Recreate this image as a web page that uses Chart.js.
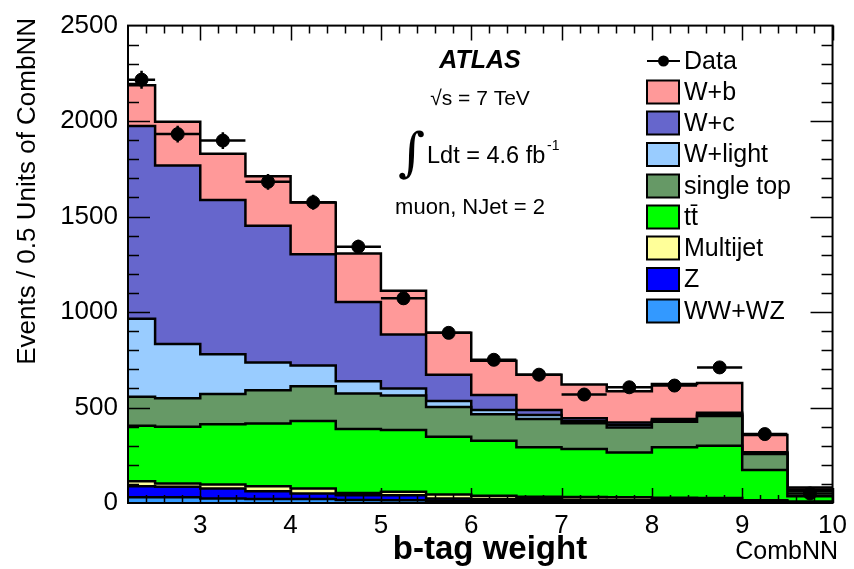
<!DOCTYPE html>
<html>
<head>
<meta charset="utf-8">
<script src="https://cdn.jsdelivr.net/npm/chart.js@4.4.0/dist/chart.umd.min.js"></script>
<style>
html, body { margin: 0; padding: 0; background: #fff; }
#wrap { width: 854px; height: 569px; }
</style>
</head>
<body>
<div id="wrap"><canvas id="chartBtag" width="854" height="569"></canvas></div>
<script>
// ---- data (events per bin)
const binEdges = [2.2, 2.5, 3.0, 3.5, 4.0, 4.5, 5.0, 5.5, 6.0, 6.5, 7.0, 7.5, 8.0, 8.5, 9.0, 9.5, 10.0];
const dataEvents = [2217, 1932, 1898, 1682, 1575, 1342, 1072, 891, 750, 672, 568, 606, 615, 710, 361, 50];

const wwwzVals      = [30, 30, 24, 21, 21, 16, 14, 12, 10, 9, 8, 7, 7, 6, 3, 1];
const zVals         = [58, 55, 52, 41, 29, 25, 27, 12, 11, 10, 9, 9, 8, 8, 5, 3];
const multijetVals  = [26, 17, 21, 26, 26, 12, 18, 21, 17, 14, 15, 14, 13, 12, 7, 4];
const ttbarVals     = [290, 297, 316, 328, 354, 334, 323, 302, 288, 259, 251, 235, 264, 274, 158, 28];
const singleTopVals = [152, 149, 158, 175, 181, 186, 181, 156, 139, 148, 135, 130, 133, 156, 84, 28];
const wLightVals    = [409, 285, 208, 145, 109, 64, 36, 31, 22, 21, 12, 13, 7, 8, 4, 3];
const wcVals        = [1009, 935, 808, 716, 582, 415, 283, 138, 78, 26, 14, 13, 8, 8, 5, 4];
const wbVals        = [214, 228, 242, 259, 271, 254, 230, 219, 180, 185, 176, 164, 183, 156, 90, 10];

const xTicks = [3, 4, 5, 6, 7, 8, 9, 10];
const yTicks = [0, 500, 1000, 1500, 2000, 2500];

// stack order: bottom first
const stackNames  = ["WW+WZ", "Z", "Multijet", "tt\u0304", "single top", "W+light", "W+c", "W+b"];
const stackVals   = [wwwzVals, zVals, multijetVals, ttbarVals, singleTopVals, wLightVals, wcVals, wbVals];
const stackColors = ["#3399ff", "#0000ff", "#ffff99", "#00ff00", "#669966", "#99ccff", "#6666cc", "#ff9999"];

const FONT = "'Liberation Sans', Arial, Helvetica, sans-serif";

// histogram as stepped line: one point per bin edge, last value repeated at the end
function histPoints(vals) {
    return binEdges.map((e, i) => ({ x: e, y: vals[Math.min(i, vals.length - 1)] }));
}

const datasets = stackVals.map((vals, i) => ({
    label: stackNames[i],
    data: histPoints(vals),
    stepped: true,
    fill: i == 0 ? "origin" : "-1",
    backgroundColor: stackColors[i],
    borderColor: "#000",
    borderWidth: 2.5,
    pointRadius: 0,
    stack: "mc",
    order: 0
}));

datasets.push({
    label: "Data",
    data: dataEvents.map((v, i) => ({ x: (binEdges[i] + binEdges[i + 1]) / 2, y: v })),
    showLine: false,
    pointRadius: 6.5,
    pointBackgroundColor: "#000",
    pointBorderColor: "#000",
    stack: "data",
    fill: false,
    order: -1
});

//----- frame, inward ticks, error bars, legend and labels
const decor = {
    id: "decor",
    afterDatasetsDraw(chart) {
        const { ctx, chartArea: a, scales: { x, y } } = chart;
        ctx.save();
        ctx.strokeStyle = "#000";
        ctx.lineWidth = 2.5;
        // data error bars
        dataEvents.forEach((v, i) => {
            const y0 = y.getPixelForValue(v);
            const e = Math.sqrt(v);
            ctx.beginPath();
            ctx.moveTo(x.getPixelForValue(binEdges[i]), y0);
            ctx.lineTo(x.getPixelForValue(binEdges[i + 1]), y0);
            const xc = x.getPixelForValue((binEdges[i] + binEdges[i + 1]) / 2);
            ctx.moveTo(xc, y.getPixelForValue(v + e));
            ctx.lineTo(xc, y.getPixelForValue(Math.max(v - e, 0)));
            ctx.stroke();
        });

        // ticks
        ctx.lineWidth = 1.5;
        ctx.beginPath();
        for (let v = 2.4; v <= 10.001; v += 0.2) {
            const px = Math.round(x.getPixelForValue(v)) + 0.5;
            const major = Math.abs(v - Math.round(v)) < 0.01;
            const len = major ? 15 : 8;
            ctx.moveTo(px, a.bottom); ctx.lineTo(px, a.bottom - len);
            ctx.moveTo(px, a.top); ctx.lineTo(px, a.top + len);
        }
        for (let v = 100; v < 2500; v += 100) {
            const py = Math.round(y.getPixelForValue(v)) + 0.5;
            const len = v % 500 == 0 ? 22 : 11;
            ctx.moveTo(a.left, py); ctx.lineTo(a.left + len, py);
            ctx.moveTo(a.right, py); ctx.lineTo(a.right - len, py);
        }
        ctx.stroke();
        ctx.lineWidth = 2;
        ctx.strokeRect(a.left, a.top, a.right - a.left, a.bottom - a.top);

        // legend
        const rowY = [61, 92, 123, 154.5, 186, 217, 248, 279.5, 311];
        const lx = 647;
        ctx.fillStyle = "#000";
        ctx.font = "25px " + FONT;
        ctx.textBaseline = "middle";
        ctx.textAlign = "left";
        ctx.beginPath();
        ctx.moveTo(lx, rowY[0]); ctx.lineTo(lx + 33, rowY[0]);
        ctx.lineWidth = 2;
        ctx.stroke();
        ctx.beginPath();
        ctx.arc(lx + 16.5, rowY[0], 5.5, 0, Math.PI * 2);
        ctx.fill();
        ctx.fillText("Data", 684, rowY[0] + 1);
        for (let k = 0; k < stackNames.length; k++) {
            const i = stackNames.length - 1 - k;
            const ry = rowY[k + 1];
            ctx.fillStyle = stackColors[i];
            ctx.fillRect(lx, ry - 11.5, 32, 23);
            ctx.strokeStyle = "#000";
            ctx.lineWidth = 2;
            ctx.strokeRect(lx, ry - 11.5, 32, 23);
            ctx.fillStyle = "#000";
            ctx.fillText(stackNames[i], 684, ry + 1);
        }

        // ATLAS labels
        ctx.textAlign = "center";
        ctx.font = "italic bold 25px " + FONT;
        ctx.fillText("ATLAS", 480, 61);
        ctx.font = "21px " + FONT;
        ctx.fillText("\u221As = 7 TeV", 480, 99);
        ctx.textAlign = "left";
        ctx.font = "52px 'DejaVu Serif', serif";
        ctx.fillText("\u222B", 398, 156);
        ctx.font = "23.5px " + FONT;
        ctx.fillText("Ldt = 4.6 fb", 427, 157);
        ctx.font = "14px " + FONT;
        ctx.fillText("-1", 547, 146);
        ctx.textAlign = "center";
        ctx.font = "22px " + FONT;
        ctx.fillText("muon, NJet = 2", 470, 208);

        // axis titles
        ctx.font = "bold 33px " + FONT;
        ctx.fillText("b-tag weight", 490, 550);
        ctx.textAlign = "right";
        ctx.font = "25px " + FONT;
        ctx.fillText("CombNN", 838, 552);
        ctx.save();
        ctx.translate(28, 18);
        ctx.rotate(-Math.PI / 2);
        ctx.textAlign = "right";
        ctx.font = "26px " + FONT;
        ctx.fillText("Events / 0.5 Units of CombNN", 0, 0);
        ctx.restore();

        ctx.restore();
    }
};

new Chart(document.getElementById("chartBtag"), {
    type: "line",
    data: { datasets: datasets },
    options: {
        responsive: false,
        animation: false,
        devicePixelRatio: 1,
        layout: { padding: { top: 20, right: 16, left: 0, bottom: 0 } },
        plugins: { legend: { display: false }, tooltip: { enabled: false } },
        scales: {
            x: {
                type: "linear",
                min: 2.2,
                max: 10,
                grid: { display: false, drawTicks: false },
                border: { display: false },
                afterBuildTicks: s => { s.ticks = xTicks.map(v => ({ value: v })); },
                afterFit: s => { s.height = 66; },
                ticks: { color: "#000", padding: 7, maxRotation: 0, font: { family: FONT, size: 26 },
                         callback: v => String(v) }
            },
            y: {
                stacked: true,
                min: 0,
                max: 2500,
                grid: { display: false, drawTicks: false },
                border: { display: false },
                afterBuildTicks: s => { s.ticks = yTicks.map(v => ({ value: v })); },
                afterFit: s => { s.width = 128; },
                ticks: { color: "#000", padding: 10, font: { family: FONT, size: 26 },
                         callback: v => String(v) }
            }
        }
    },
    plugins: [decor]
});
</script>
</body>
</html>
